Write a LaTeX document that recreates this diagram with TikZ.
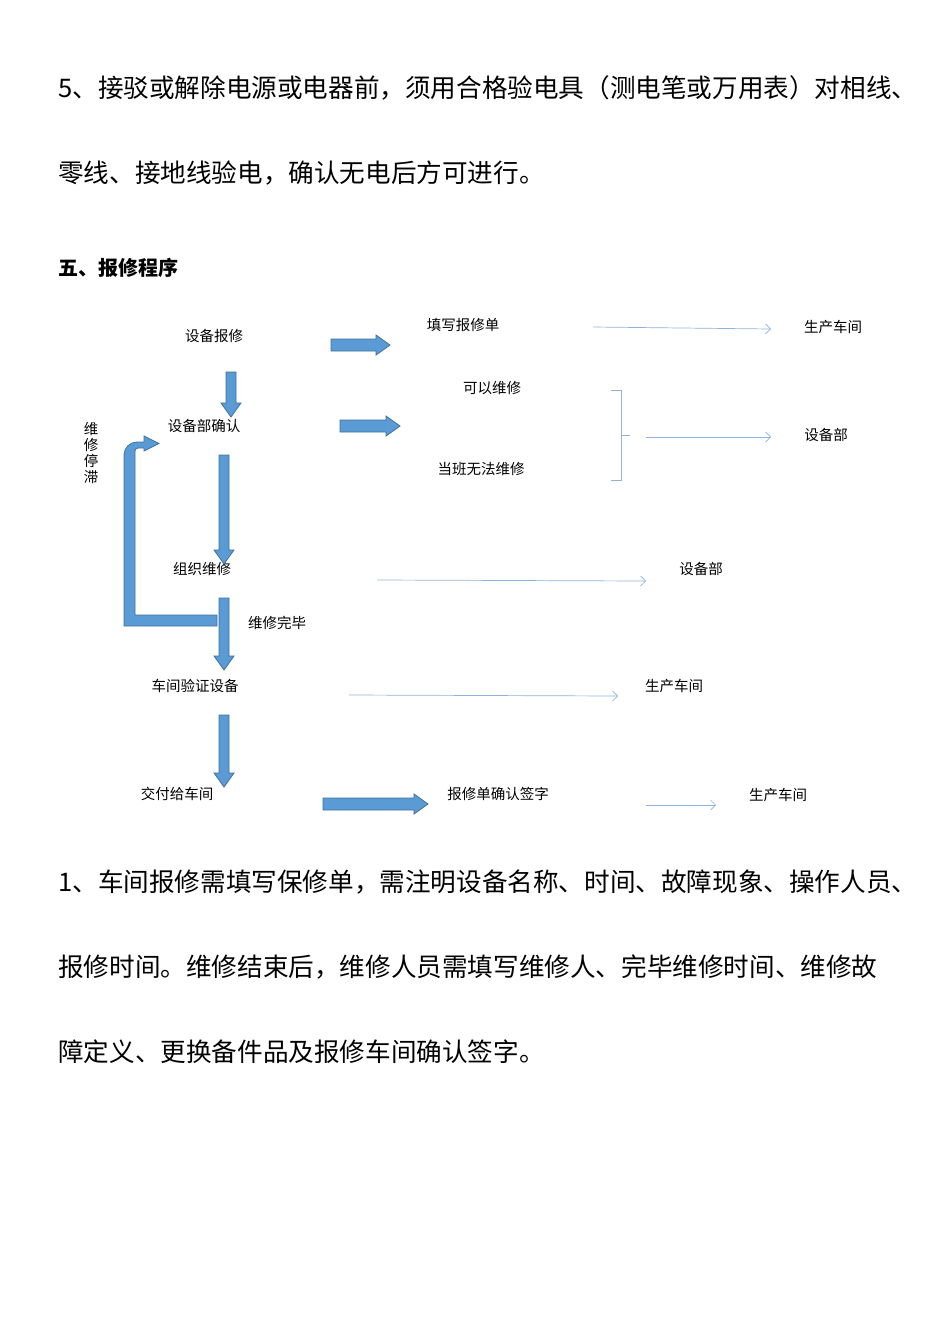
\documentclass[tikz,border=0pt]{standalone}
\usepackage{fontspec}
\usetikzlibrary{arrows.meta}
\setmainfont{Noto Sans CJK SC}
\begin{document}
\begin{tikzpicture}[x=1pt,y=-1pt,
  body/.style={anchor=west,inner sep=0pt,font=\fontsize{25.6}{28}\selectfont},
  lab/.style={inner sep=1pt,font=\fontsize{14.5}{16}\selectfont},
  fat/.style={fill=blk,draw=blkd,line width=0.8pt},
  thinarr/.style={draw=thinc,line width=0.7pt,-{Straight Barb[length=5pt,width=10pt]}}]
\definecolor{blk}{HTML}{5B9BD5}\definecolor{blkd}{HTML}{41719C}\definecolor{thinc}{HTML}{8FB3DC}
\useasboundingbox (0,0) rectangle (950,1344);
\fill[white] (0,0) rectangle (950,1344);
\node[body] (t1) at (58,88) {5、接驳或解除电源或电器前，须用合格验电具（测电笔或万用表）对相线、};
\node[body] (t2) at (58,173) {零线、接地线验电，确认无电后方可进行。};
\node[body,font=\fontsize{20}{22}\selectfont\bfseries] (h) at (58,268) {五、报修程序};
\node[body] (t3) at (58,882) {1、车间报修需填写保修单，需注明设备名称、时间、故障现象、操作人员、};
\node[body] (t4) at (58,967) {报修时间。维修结束后，维修人员需填写维修人、完毕维修时间、维修故};
\node[body] (t5) at (58,1052) {障定义、更换备件品及报修车间确认签字。};
% labels
\node[lab] (a) at (214,336) {设备报修};
\node[lab] (b) at (204,426) {设备部确认};
\node[lab] (c) at (202,569) {组织维修};
\node[lab] (d) at (195,686) {车间验证设备};
\node[lab] (e) at (177,794) {交付给车间};
\node[lab] (f) at (463,325) {填写报修单};
\node[lab] (g) at (492,388) {可以维修};
\node[lab] (i) at (481,469) {当班无法维修};
\node[lab] (j) at (277,623) {维修完毕};
\node[lab] (k) at (498,794) {报修单确认签字};
\node[lab] (r1) at (833,327) {生产车间};
\node[lab] (r2) at (826,435) {设备部};
\node[lab] (r3) at (701,569) {设备部};
\node[lab] (r4) at (674,686) {生产车间};
\node[lab] (r5) at (778,795) {生产车间};
\node[lab,align=center,text width=15pt] (s) at (91,453) {维\\修\\停\\滞};
% fat arrows
\newcommand\rarr[3]{\draw[fat] (#1,#3-6)--(#2-14,#3-6)--(#2-14,#3-10)--(#2,#3)--(#2-14,#3+10)--(#2-14,#3+6)--(#1,#3+6)--cycle;}
\newcommand\darr[3]{\draw[fat] (#1-5,#2)--(#1+5,#2)--(#1+5,#3-14)--(#1+10,#3-14)--(#1,#3)--(#1-10,#3-14)--(#1-5,#3-14)--cycle;}
\rarr{331}{390}{345}
\rarr{340}{400}{426}
\rarr{323}{428}{804}
\darr{231}{372}{417}
\darr{224}{455}{564}
\darr{224}{598}{670}
\darr{224}{715}{787}
% loop arrow
\draw[fat] (217,615)--(217,626)--(124,626)--(124,455) arc[start angle=180,end angle=270,radius=13] --(144,442)--(144,436)--(159,443.5)--(144,451)--(144,448)--(138,448) arc[start angle=270,end angle=180,radius=3]--(135,615)--cycle;
% thin arrows
\coordinate (p1) at (593,327); \coordinate (q1) at (771,329);
\coordinate (p2) at (646,437); \coordinate (q2) at (771,437);
\coordinate (p3) at (377,580); \coordinate (q3) at (646,581);
\coordinate (p4) at (349,695); \coordinate (q4) at (618,696);
\coordinate (p5) at (646,805); \coordinate (q5) at (716,805);
\foreach \n in {1,...,5}{\draw[thinarr] (p\n)--(q\n);}
\draw[thinc,line width=0.7pt] (611,390)--(621,390)--(621,435)--(630,435) (621,435)--(621,480)--(611,480);
\end{tikzpicture}
\end{document}
